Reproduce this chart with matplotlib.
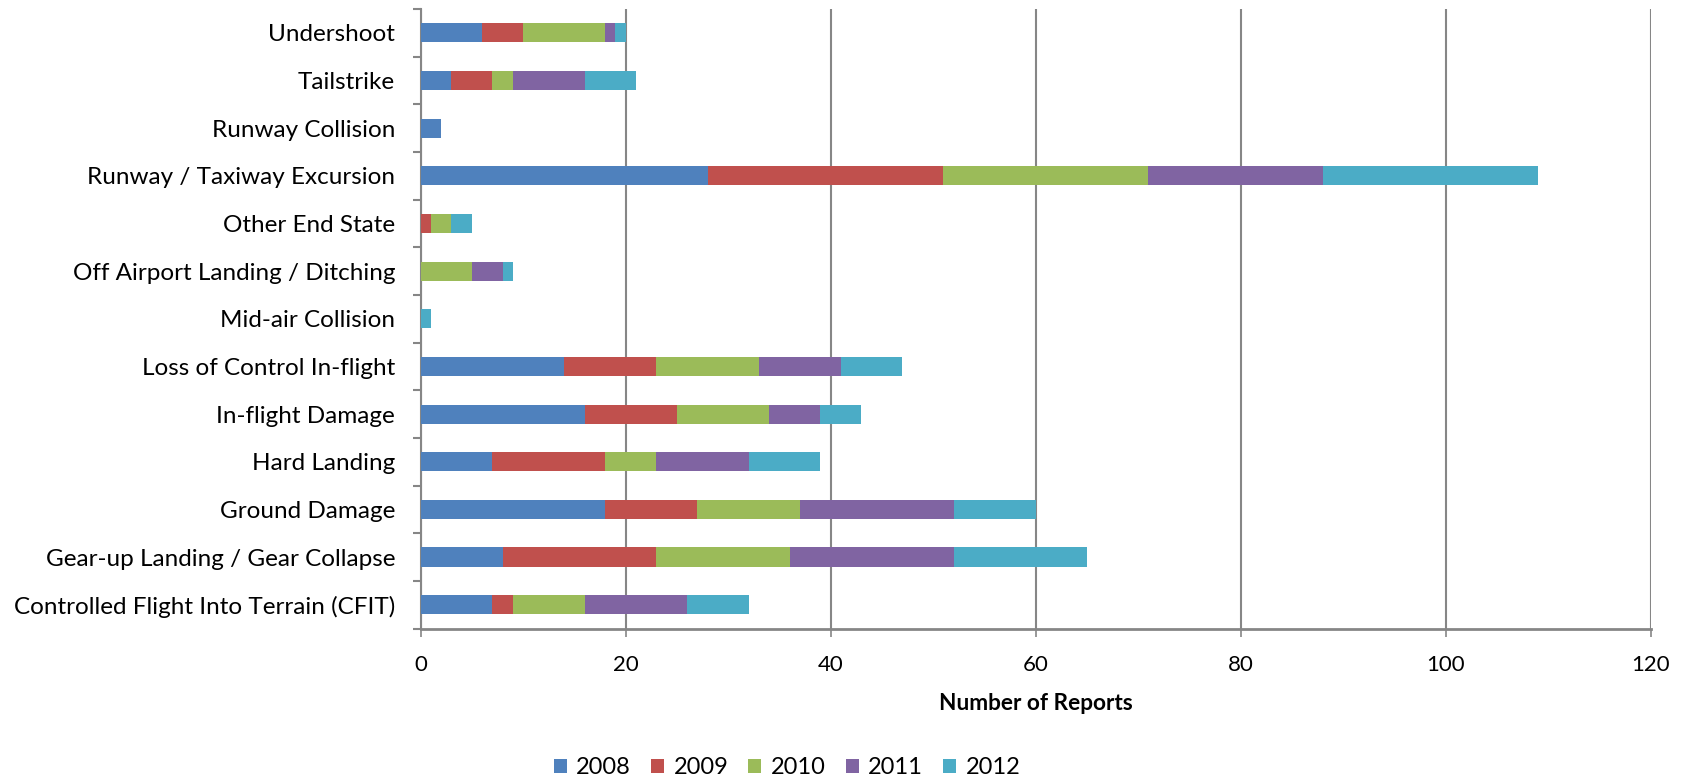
import matplotlib
matplotlib.use("Agg")
import matplotlib.pyplot as plt
import numpy as np

plt.rcParams['font.family'] = ['Lato', 'DejaVu Sans']

categories = [
    "Controlled Flight Into Terrain (CFIT)",
    "Gear-up Landing / Gear Collapse",
    "Ground Damage",
    "Hard Landing",
    "In-flight Damage",
    "Loss of Control In-flight",
    "Mid-air Collision",
    "Off Airport Landing / Ditching",
    "Other End State",
    "Runway / Taxiway Excursion",
    "Runway Collision",
    "Tailstrike",
    "Undershoot",
]
years = ["2008", "2009", "2010", "2011", "2012"]
v2008 = [7, 8, 18, 7, 16, 14, 0, 0, 0, 28, 2, 3, 6]
v2009 = [2, 15, 9, 11, 9, 9, 0, 0, 1, 23, 0, 4, 4]
v2010 = [7, 13, 10, 5, 9, 10, 0, 5, 2, 20, 0, 2, 8]
v2011 = [10, 16, 15, 9, 5, 8, 0, 3, 0, 17, 0, 7, 1]
v2012 = [6, 13, 8, 7, 4, 6, 1, 1, 2, 21, 0, 5, 1]
series = [v2008, v2009, v2010, v2011, v2012]
colors = ["#4F81BD", "#C0504D", "#9BBB59", "#8064A2", "#4BACC6"]
xticks = [0, 20, 40, 60, 80, 100, 120]

W, H = 1691, 780
fig = plt.figure(figsize=(W / 100, H / 100), dpi=100)
left, right, top, bottom = 420.7, 1650.7, 9.0, 628.5
ax = fig.add_axes([left / W, 1 - bottom / H, (right - left) / W, (bottom - top) / H])

y = np.arange(len(categories))
base = np.zeros(len(categories))
for vals, c, yr in zip(series, colors, years):
    ax.barh(y, vals, left=base, height=0.4, color=c, label=yr, zorder=3)
    base += np.array(vals)

grid_c = "#868686"
ax.set_xlim(0, 120)
ax.set_ylim(-0.5, len(categories) - 0.5)
ax.set_xticks(xticks)
ax.set_xticklabels([str(t) for t in xticks], fontsize=16)
ax.xaxis.grid(True, color=grid_c, linewidth=1.5, zorder=0)
ax.set_axisbelow(True)

ax.set_yticks(np.arange(-0.5, len(categories), 1.0))
ax.set_yticklabels([])
ax.set_yticks(y, minor=True)
ax.set_yticklabels(categories, minor=True, fontsize=17.5)
ax.tick_params(axis='y', which='major', direction='out', length=5.8, width=1.5, color=grid_c)
ax.tick_params(axis='y', which='minor', length=0, pad=18.5)
ax.tick_params(axis='x', which='major', direction='out', length=5.8, width=1.2, color=grid_c, pad=13)

for s in ['top', 'right']:
    ax.spines[s].set_visible(False)
ax.spines['left'].set_color(grid_c)
ax.spines['left'].set_linewidth(1.5)
ax.spines['bottom'].set_color(grid_c)
ax.spines['bottom'].set_linewidth(2.0)

ax.set_xlabel("Number of Reports", fontsize=16.3, fontweight='bold')
ax.xaxis.set_label_coords(0.5, (bottom - 703) / (bottom - top))
ax.xaxis.label.set_va('center')

fig.legend(loc='center', bbox_to_anchor=(787 / W, 1 - 768 / H), ncol=5, frameon=False,
           fontsize=17, handlelength=0.55, handleheight=0.55, handletextpad=0.4,
           columnspacing=0.85)

fig.savefig("out.png", dpi=100)
